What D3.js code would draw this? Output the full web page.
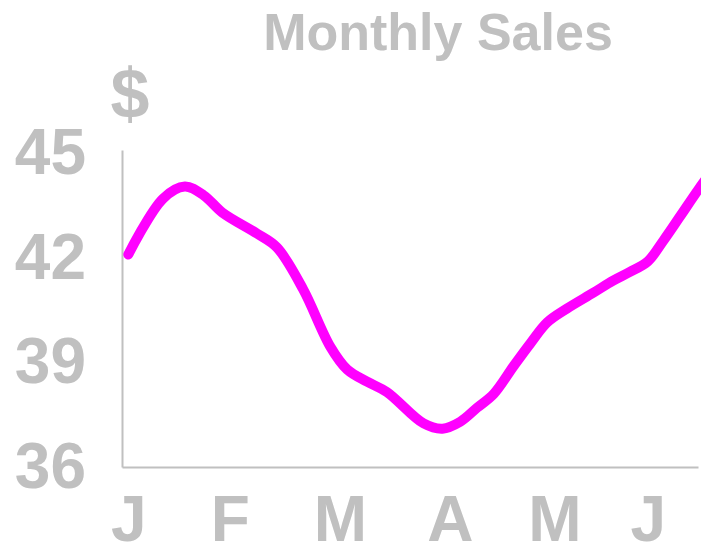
<!DOCTYPE html>
<html><head><meta charset="utf-8">
<script src="https://cdn.jsdelivr.net/npm/d3@7"></script>
<style>
html,body{margin:0;padding:0;background:#fff;}
svg{display:block;font-family:"Liberation Sans",Arial,sans-serif;}
</style></head>
<body>
<svg id="chart" width="701" height="549"></svg>
<script>
// month index (fractional) along x, sales value in $
const monthLabels = ["J","F","M","A","M","J"];
const monthTicks = [0,0.97,2.02,3.07,4.07,4.96];
const xPos = [0,0.33,0.54,0.72,0.90,1.23,1.42,1.67,1.93,2.09,2.28,2.47,2.82,3.0,3.17,3.33,3.49,3.68,3.84,4.0,4.19,4.44,4.63,4.79,4.96,5.11,5.27,5.44,5.61];
const sales = [42.1,43.7,44.05,43.8,43.3,42.7,42.3,41.1,39.45,38.8,38.45,38.15,37.25,37.1,37.3,37.7,38.1,38.9,39.55,40.15,40.55,41.0,41.35,41.6,41.9,42.5,43.2,43.95,44.65];
const yTicks = [36,39,42,45];
const titleText = "Monthly Sales";
const yLabel = "$";

const svg = d3.select("#chart");
const gray = "#c0c0c0";

const x = d3.scaleLinear().domain([-0.06,5.44]).range([122,698]);
const y = d3.scaleLinear().domain([36,45.1]).range([467,150]);

// title
svg.append("text").attr("x",438).attr("y",50).attr("text-anchor","middle")
  .attr("font-size",52).attr("font-weight","bold").attr("fill",gray).text(titleText);
svg.append("text").attr("x",130).attr("y",118).attr("text-anchor","middle")
  .attr("font-size",70).attr("font-weight","bold").attr("fill",gray).text(yLabel);

const xAxis = svg.append("g").attr("transform","translate(0,"+y(36)+")")
  .call(d3.axisBottom(x).tickValues(monthTicks).tickFormat((d,i)=>monthLabels[i]).tickSize(0).tickPadding(29));
const yAxis = svg.append("g").attr("transform","translate("+x(-0.06)+",0)")
  .call(d3.axisLeft(y).tickValues(yTicks).tickSize(0).tickPadding(36));

[xAxis,yAxis].forEach(g=>{
  g.select(".domain").attr("stroke",gray).attr("stroke-width",2);
  g.selectAll("text").attr("fill",gray).attr("font-size",64).attr("font-weight","bold")
   .attr("font-family","Liberation Sans, Arial, sans-serif");
});

const data = xPos.map((v,i)=>({m:v,v:sales[i]}));
const line = d3.line().x(d=>x(d.m)).y(d=>y(d.v)).curve(d3.curveCatmullRom.alpha(0.5));
svg.append("path").datum(data).attr("d",line).attr("fill","none")
  .attr("stroke","#ff00ff").attr("stroke-width",10)
  .attr("stroke-linecap","round").attr("stroke-linejoin","round");
</script>
</body></html>
